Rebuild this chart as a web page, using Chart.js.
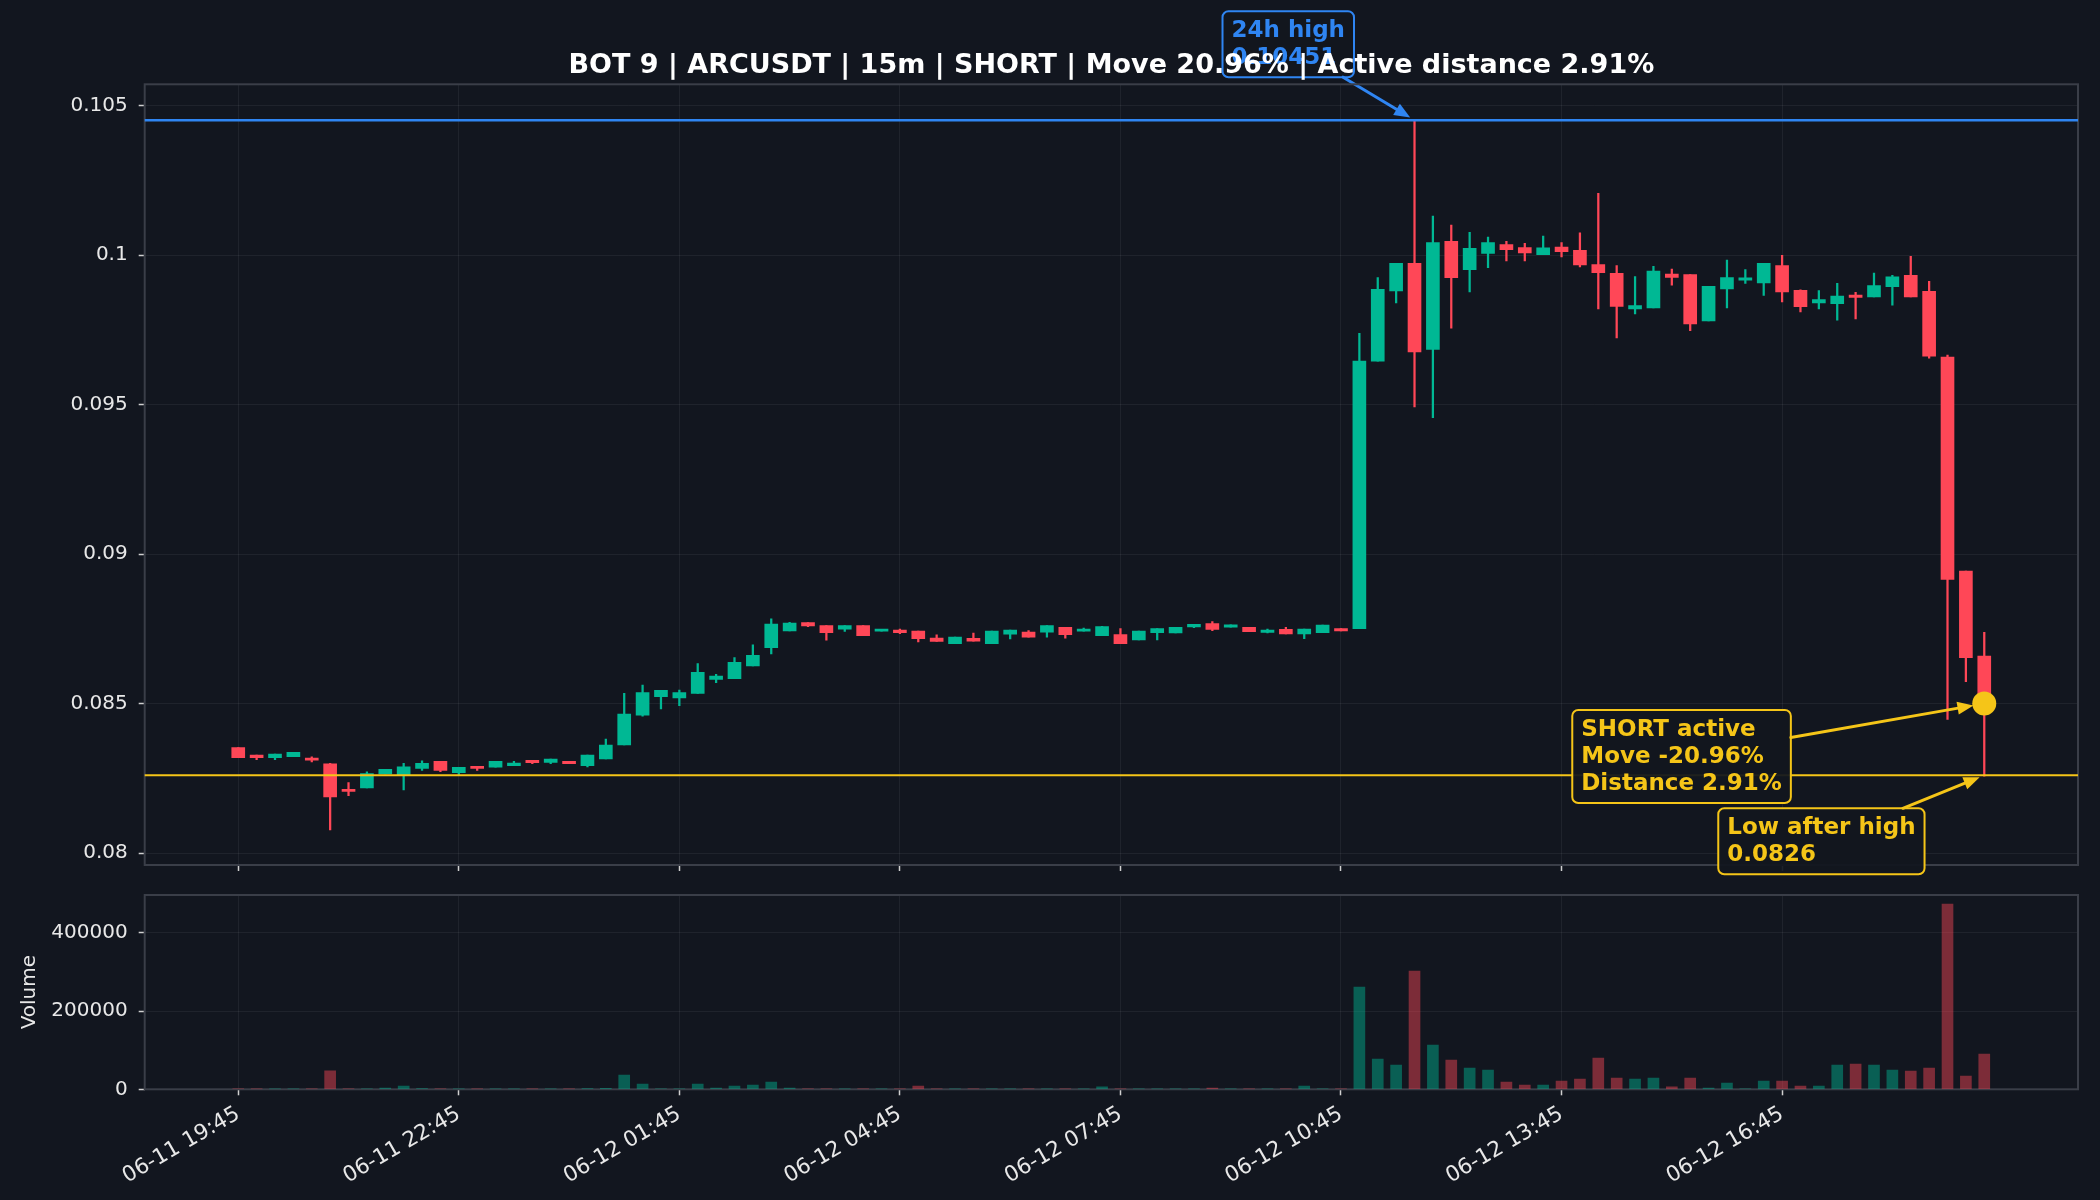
<!DOCTYPE html>
<html>
<head>
<meta charset="utf-8">
<title>BOT 9 ARCUSDT 15m</title>
<script src="https://cdn.jsdelivr.net/npm/chart.js@4.4.1/dist/chart.umd.min.js"></script>
<style>
  html, body { margin: 0; padding: 0; background: #12161f; }
  #wrap { position: relative; width: 2100px; height: 1200px; overflow: hidden; }
  #priceChart { position: absolute; left: 0; top: 0; }
  #volChart { position: absolute; left: 0; top: 872px; }
</style>
</head>
<body>
<div id="wrap">
  <canvas id="priceChart" width="2100" height="888"></canvas>
  <canvas id="volChart" width="2100" height="328"></canvas>
</div>
<script>
// 15m candles, 06-11 19:45 -> 06-12 19:30 (index 0..95)
const opens = [
  0.08353, 0.08328, 0.08319, 0.08322, 0.08315, 0.08298, 0.08211, 0.08218, 0.08265, 0.08261,
  0.08283, 0.08307, 0.08269, 0.08290, 0.08287, 0.08292, 0.08310, 0.08303, 0.08307, 0.08292,
  0.08315, 0.08362, 0.08461, 0.08523, 0.08519, 0.08534, 0.08581, 0.08583, 0.08626, 0.08687,
  0.08743, 0.08771, 0.08761, 0.08749, 0.08761, 0.08742, 0.08746, 0.08742, 0.08719, 0.08700,
  0.08718, 0.08700, 0.08732, 0.08739, 0.08739, 0.08755, 0.08742, 0.08727, 0.08731, 0.08713,
  0.08737, 0.08736, 0.08756, 0.08767, 0.08755, 0.08755, 0.08738, 0.08748, 0.08733, 0.08737,
  0.08751, 0.08750, 0.09645, 0.09880, 0.09972, 0.09684, 0.10046, 0.09951, 0.10005, 0.10035,
  0.10025, 0.10001, 0.10027, 0.10016, 0.09968, 0.09939, 0.09820, 0.09823, 0.09936, 0.09935,
  0.09780, 0.09887, 0.09916, 0.09907, 0.09965, 0.09882, 0.09840, 0.09837, 0.09866, 0.09860,
  0.09894, 0.09932, 0.09879, 0.09659, 0.08943, 0.08659
];
const highs = [
  0.08353, 0.08328, 0.08331, 0.08337, 0.08322, 0.08300, 0.08236, 0.08272, 0.08280, 0.08300,
  0.08308, 0.08307, 0.08287, 0.08290, 0.08307, 0.08307, 0.08310, 0.08314, 0.08307, 0.08328,
  0.08381, 0.08534, 0.08562, 0.08544, 0.08545, 0.08634, 0.08598, 0.08654, 0.08696, 0.08783,
  0.08772, 0.08771, 0.08761, 0.08761, 0.08761, 0.08748, 0.08749, 0.08742, 0.08730, 0.08722,
  0.08736, 0.08742, 0.08746, 0.08744, 0.08761, 0.08755, 0.08752, 0.08758, 0.08751, 0.08742,
  0.08751, 0.08755, 0.08765, 0.08774, 0.08763, 0.08755, 0.08749, 0.08755, 0.08749, 0.08762,
  0.08751, 0.09738, 0.09925, 0.09972, 0.10451, 0.10130, 0.10100, 0.10076, 0.10060, 0.10046,
  0.10039, 0.10063, 0.10042, 0.10074, 0.10206, 0.09965, 0.09928, 0.09962, 0.09953, 0.09935,
  0.09895, 0.09983, 0.09951, 0.09972, 0.09999, 0.09884, 0.09881, 0.09905, 0.09875, 0.09940,
  0.09932, 0.09996, 0.09912, 0.09665, 0.08943, 0.08738
];
const lows = [
  0.08319, 0.08312, 0.08312, 0.08322, 0.08305, 0.08077, 0.08192, 0.08218, 0.08265, 0.08211,
  0.08276, 0.08272, 0.08261, 0.08276, 0.08287, 0.08292, 0.08299, 0.08299, 0.08299, 0.08288,
  0.08315, 0.08362, 0.08458, 0.08482, 0.08493, 0.08534, 0.08570, 0.08583, 0.08626, 0.08666,
  0.08743, 0.08757, 0.08712, 0.08741, 0.08727, 0.08742, 0.08734, 0.08706, 0.08708, 0.08700,
  0.08709, 0.08700, 0.08716, 0.08722, 0.08722, 0.08719, 0.08742, 0.08727, 0.08700, 0.08713,
  0.08713, 0.08736, 0.08754, 0.08744, 0.08755, 0.08740, 0.08736, 0.08733, 0.08717, 0.08737,
  0.08743, 0.08750, 0.09645, 0.09840, 0.09492, 0.09456, 0.09755, 0.09877, 0.09958, 0.09980,
  0.09980, 0.10001, 0.09994, 0.09960, 0.09820, 0.09723, 0.09803, 0.09823, 0.09899, 0.09747,
  0.09780, 0.09823, 0.09905, 0.09865, 0.09843, 0.09810, 0.09820, 0.09782, 0.09786, 0.09860,
  0.09832, 0.09860, 0.09655, 0.08447, 0.08573, 0.08257
];
const closes = [
  0.08319, 0.08319, 0.08331, 0.08337, 0.08311, 0.08188, 0.08206, 0.08266, 0.08280, 0.08288,
  0.08300, 0.08276, 0.08287, 0.08283, 0.08307, 0.08301, 0.08302, 0.08314, 0.08299, 0.08328,
  0.08361, 0.08465, 0.08537, 0.08544, 0.08537, 0.08604, 0.08592, 0.08638, 0.08661, 0.08766,
  0.08769, 0.08760, 0.08737, 0.08761, 0.08727, 0.08748, 0.08737, 0.08717, 0.08708, 0.08722,
  0.08709, 0.08742, 0.08746, 0.08722, 0.08761, 0.08730, 0.08749, 0.08757, 0.08700, 0.08742,
  0.08751, 0.08755, 0.08765, 0.08748, 0.08763, 0.08740, 0.08746, 0.08733, 0.08749, 0.08762,
  0.08743, 0.09645, 0.09885, 0.09972, 0.09676, 0.10042, 0.09924, 0.10022, 0.10042, 0.10018,
  0.10007, 0.10024, 0.10011, 0.09967, 0.09941, 0.09828, 0.09831, 0.09946, 0.09925, 0.09770,
  0.09895, 0.09925, 0.09924, 0.09972, 0.09877, 0.09827, 0.09851, 0.09863, 0.09858, 0.09898,
  0.09927, 0.09860, 0.09662, 0.08915, 0.08653, 0.08500
];
const volumes = [
  800, 300, 400, 300, 500, 47000, 1500, 1200, 3400, 8500,
  1700, 900, 600, 400, 700, 500, 300, 600, 300, 1800,
  2500, 36600, 13600, 1500, 1200, 13600, 3400, 8500, 11000, 18700,
  3400, 1000, 700, 400, 600, 200, 300, 8500, 400, 500,
  300, 600, 300, 200, 400, 300, 200, 6000, 600, 300,
  400, 300, 500, 3400, 300, 400, 200, 300, 8500, 700,
  400, 261300, 77400, 62100, 302100, 113200, 74900, 54500, 49400, 18700,
  11100, 11100, 21300, 26400, 80000, 28900, 26400, 28900, 6000, 28900,
  3400, 16200, 1200, 21300, 21300, 8500, 8500, 62100, 64700, 62100,
  49400, 46800, 54500, 473200, 34000, 90200
];
const tickIndex = [0, 12, 24, 36, 48, 60, 72, 84];
const tickLabels = ["06-11 19:45", "06-11 22:45", "06-12 01:45", "06-12 04:45",
                    "06-12 07:45", "06-12 10:45", "06-12 13:45", "06-12 16:45"];
const priceTicks = [0.08, 0.085, 0.09, 0.095, 0.1, 0.105];
const volTicks = [0, 200000, 400000];

const high24 = 0.10451;
const highIdx = 64;
const lowAfterHigh = 0.0826;
const lastIdx = 95;
const activePrice = 0.0850;
const movePct = -20.96;
const distancePct = 2.91;
const titleText = "BOT 9 | ARCUSDT | 15m | SHORT | Move 20.96% | Active distance 2.91%";

const UP = "#00b894";
const DOWN = "#ff4757";
const UP_VOL = "rgba(0,184,148,0.45)";
const DOWN_VOL = "rgba(255,71,87,0.45)";
const BLUE = "#2f85f2";
const YELLOW = "#f5c518";
const GRID = "rgba(255,255,255,0.06)";
const SPINE = "#3a3e48";
const TICK = "#d0d0d0";
const FONT = "'DejaVu Sans', sans-serif";
const NOTE_FONT = "bold 23px 'DejaVu Sans', sans-serif";

Chart.defaults.font.family = FONT;
Chart.defaults.font.size = 20;
Chart.defaults.color = "#e8e8e8";

const idx = opens.map((o, i) => i);
const isUp = idx.map(i => closes[i] >= opens[i]);

function noteBox(ctx, lines, left, top, color){
    ctx.save();
    ctx.font = NOTE_FONT;
    const w = Math.max(...lines.map(t => ctx.measureText(t).width)) + 18;
    const h = lines.length * 27 + 12;
    ctx.beginPath();
    ctx.roundRect(left, top, w, h, 6);
    ctx.fillStyle = "rgba(18,22,31,0.94)";
    ctx.fill();
    ctx.lineWidth = 2;
    ctx.strokeStyle = color;
    ctx.stroke();
    ctx.fillStyle = color;
    ctx.textAlign = "left";
    ctx.textBaseline = "alphabetic";
    lines.forEach((t, k) => ctx.fillText(t, left + 9, top + 26 + k * 27));
    ctx.restore();
    return {left: left, top: top, right: left + w, bottom: top + h};
}

function arrowFromBox(ctx, box, tx, ty, color, shrink){
    const cx = (box.left + box.right) / 2, cy = (box.top + box.bottom) / 2;
    const dx = tx - cx, dy = ty - cy;
    const t = Math.min(
        Math.abs(((dx > 0 ? box.right : box.left) - cx) / dx),
        Math.abs(((dy > 0 ? box.bottom : box.top) - cy) / dy));
    const sx = cx + dx * t, sy = cy + dy * t;
    const len = Math.hypot(tx - sx, ty - sy);
    const ux = (tx - sx) / len, uy = (ty - sy) / len;
    const ex = tx - ux * shrink, ey = ty - uy * shrink;
    const head = 16, half = 6.5;
    ctx.save();
    ctx.strokeStyle = color;
    ctx.fillStyle = color;
    ctx.lineWidth = 3;
    ctx.lineCap = "round";
    ctx.beginPath();
    ctx.moveTo(sx, sy);
    ctx.lineTo(ex - ux * head * 0.7, ey - uy * head * 0.7);
    ctx.stroke();
    ctx.beginPath();
    ctx.moveTo(ex, ey);
    ctx.lineTo(ex - ux * head - uy * half, ey - uy * head + ux * half);
    ctx.lineTo(ex - ux * head + uy * half, ey - uy * head - ux * half);
    ctx.closePath();
    ctx.fill();
    ctx.restore();
}

function drawFrame(chart){
    const {ctx, chartArea} = chart;
    ctx.save();
    ctx.strokeStyle = SPINE;
    ctx.lineWidth = 2;
    ctx.strokeRect(chartArea.left, chartArea.top, chartArea.right - chartArea.left, chartArea.bottom - chartArea.top);
    ctx.restore();
}

function hLine(chart, value, color, width){
    const {ctx, chartArea, scales} = chart;
    const y = scales.y.getPixelForValue(value);
    ctx.save();
    ctx.strokeStyle = color;
    ctx.lineWidth = width;
    ctx.beginPath();
    ctx.moveTo(chartArea.left, y);
    ctx.lineTo(chartArea.right, y);
    ctx.stroke();
    ctx.restore();
}

const priceDecor = {
    id: "priceDecor",
    beforeDraw(chart){
        const {ctx, chartArea, scales} = chart;
        const tx = scales.x.getPixelForValue(highIdx);
        const ty = scales.y.getPixelForValue(high24);
        const box = noteBox(ctx, ["24h high", high24.toFixed(5)], tx - 192, ty - 109, BLUE);
        arrowFromBox(ctx, box, tx, ty, BLUE, 5);

        ctx.save();
        ctx.font = "bold 27px " + FONT;
        ctx.fillStyle = "#ffffff";
        ctx.textAlign = "center";
        ctx.textBaseline = "alphabetic";
        ctx.fillText(titleText, (chartArea.left + chartArea.right) / 2, 72.5);
        ctx.restore();
    },
    beforeDatasetsDraw(chart){
        drawFrame(chart);
    },
    afterDatasetsDraw(chart){
        const {ctx, scales} = chart;
        hLine(chart, high24, BLUE, 2.5);
        hLine(chart, lowAfterHigh, YELLOW, 2);

        const dx = scales.x.getPixelForValue(lastIdx);
        const dy = scales.y.getPixelForValue(activePrice);
        const box1 = noteBox(ctx, ["SHORT active", "Move " + movePct.toFixed(2) + "%", "Distance " + distancePct.toFixed(2) + "%"],
                             dx - 412, dy + 6.5, YELLOW);
        arrowFromBox(ctx, box1, dx, dy, YELLOW, 11);

        const ly = scales.y.getPixelForValue(lowAfterHigh);
        const box2 = noteBox(ctx, ["Low after high", String(lowAfterHigh)], dx - 266, ly + 33, YELLOW);
        arrowFromBox(ctx, box2, dx, ly, YELLOW, 5);
    }
};

const volDecor = {
    id: "volDecor",
    beforeDatasetsDraw(chart){
        drawFrame(chart);
    }
};

const xScaleBase = {
    type: "linear",
    min: -5.09,
    max: 100.1,
    offset: false,
    afterBuildTicks: s => { s.ticks = tickIndex.map(v => ({value: v})); },
    grid: {color: GRID, lineWidth: 1, offset: false, drawTicks: true, tickLength: 6, tickColor: TICK, tickWidth: 1.5},
    border: {display: false}
};

// y tick padding (11) + half label height (12) is reserved by Chart.js at the
// axis ends, so the canvases overlap by 8px to keep the plot edges in place
new Chart(document.getElementById("priceChart"), {
    type: "bar",
    data: {
        datasets: [
            {
                type: "line",
                data: [{x: lastIdx, y: activePrice}],
                showLine: false,
                pointRadius: 12,
                pointBackgroundColor: YELLOW,
                pointBorderWidth: 0,
                order: 0
            },
            {
                data: idx.map(i => ({x: i, y: [opens[i], closes[i]]})),
                backgroundColor: idx.map(i => isUp[i] ? UP : DOWN),
                barThickness: 13,
                minBarLength: 2,
                grouped: false,
                order: 1
            },
            {
                data: idx.map(i => ({x: i, y: [lows[i], highs[i]]})),
                backgroundColor: idx.map(i => isUp[i] ? UP : DOWN),
                barThickness: 1.6,
                grouped: false,
                order: 2
            }
        ]
    },
    options: {
        responsive: false,
        animation: false,
        layout: {padding: {top: 84.3, right: 22, left: 0, bottom: 0}},
        plugins: {legend: {display: false}, tooltip: {enabled: false}, title: {display: false}},
        scales: {
            x: Object.assign({}, xScaleBase, {
                ticks: {display: false},
                afterFit: s => { s.height = 15; }
            }),
            y: {
                type: "linear",
                min: 0.0796,
                max: 0.10571,
                afterBuildTicks: s => { s.ticks = priceTicks.map(v => ({value: v})); },
                afterFit: s => { s.width = 144.7; },
                ticks: {padding: 11, color: "#e8e8e8", font: {size: 20}, callback: v => String(+v.toFixed(3))},
                grid: {color: GRID, lineWidth: 1, drawTicks: true, tickLength: 6, tickColor: TICK, tickWidth: 1.5},
                border: {display: false}
            }
        }
    },
    plugins: [priceDecor]
});

new Chart(document.getElementById("volChart"), {
    type: "bar",
    data: {
        datasets: [{
            data: idx.map(i => ({x: i, y: volumes[i]})),
            backgroundColor: idx.map(i => isUp[i] ? UP_VOL : DOWN_VOL),
            barThickness: 11,
            grouped: false
        }]
    },
    options: {
        responsive: false,
        animation: false,
        layout: {padding: {top: 0, right: 22, left: 0, bottom: 0}},
        plugins: {legend: {display: false}, tooltip: {enabled: false}},
        scales: {
            x: Object.assign({}, xScaleBase, {
                ticks: {
                    display: true,
                    color: "#e8e8e8",
                    font: {size: 21.5},
                    maxRotation: 30,
                    minRotation: 30,
                    autoSkip: false,
                    padding: 6,
                    callback: v => tickLabels[tickIndex.indexOf(v)]
                },
                afterFit: s => { s.height = 110.7; }
            }),
            y: {
                type: "linear",
                min: 0,
                max: 496500,
                afterBuildTicks: s => { s.ticks = volTicks.map(v => ({value: v})); },
                afterFit: s => { s.width = 144.7; },
                ticks: {padding: 11, color: "#e8e8e8", font: {size: 20}, callback: v => String(v)},
                grid: {color: GRID, lineWidth: 1, drawTicks: true, tickLength: 6, tickColor: TICK, tickWidth: 1.5},
                border: {display: false},
                title: {display: true, text: "Volume", color: "#e8e8e8", font: {size: 20}, padding: {top: 17.5, bottom: 0}}
            }
        }
    },
    plugins: [volDecor]
});
</script>
</body>
</html>
